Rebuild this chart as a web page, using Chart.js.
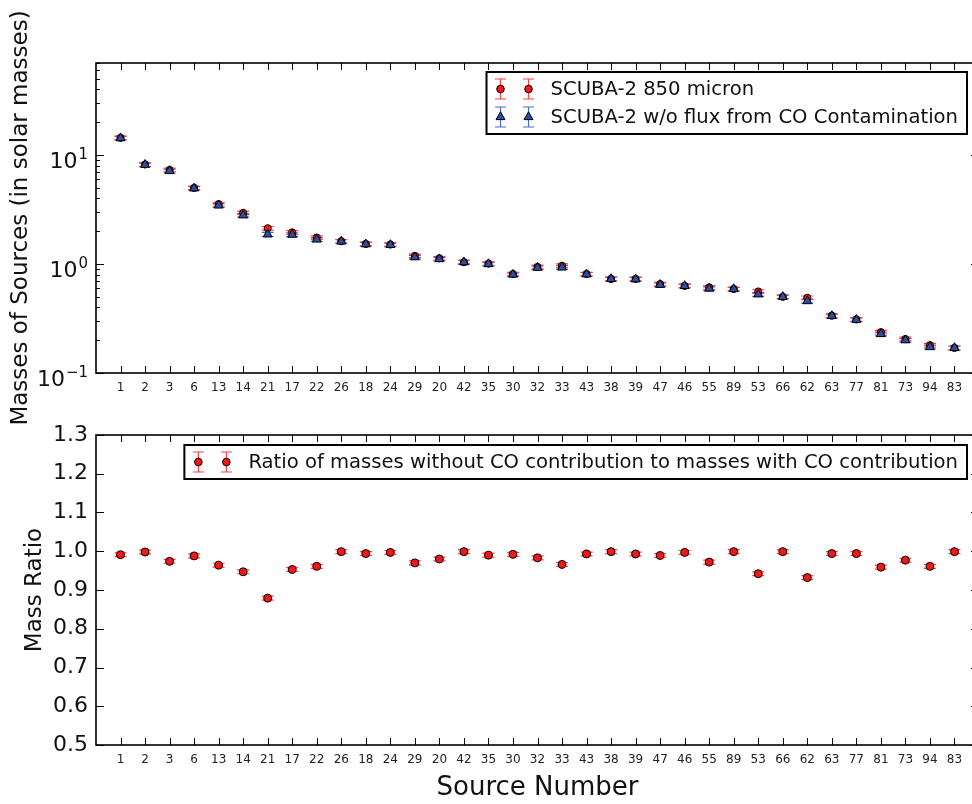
<!DOCTYPE html>
<html>
<head>
<meta charset="utf-8">
<title>Source masses with and without CO contamination</title>
<script src="https://cdn.jsdelivr.net/npm/chart.js@4.4.1/dist/chart.umd.min.js"></script>
<style>
  html, body { margin: 0; padding: 0; background: #fff; overflow: hidden; }
  canvas { position: absolute; left: 0; }
  #massChart { top: 0; }
  #ratioChart { top: 400px; }
</style>
</head>
<body>
<canvas id="ratioChart" width="990" height="404"></canvas>
<canvas id="massChart" width="990" height="440"></canvas>
<script>
// ---- data ----
const sourceLabels = ['1', '2', '3', '6', '13', '14', '21', '17', '22', '26', '18', '24', '29', '20', '42', '35', '30', '32',
  '33', '43', '38', '39', '47', '46', '55', '89', '53', '66', '62', '63', '77', '81', '73', '94', '83'];

// SCUBA-2 850 micron masses (solar masses)
const massTotal = [14.4, 8.2, 7.3, 5.0, 3.55, 2.95, 2.13, 1.95, 1.75, 1.62, 1.53, 1.51, 1.19, 1.13, 1.04, 1.01, 0.81, 0.94,
  0.965, 0.81, 0.73, 0.73, 0.655, 0.63, 0.61, 0.59, 0.56, 0.50, 0.49, 0.336, 0.31, 0.237, 0.205, 0.18, 0.17];

// masses after removing the CO line contribution
const massNoCO = [14.3, 8.15, 7.15, 4.95, 3.45, 2.8, 1.87, 1.86, 1.68, 1.61, 1.52, 1.50, 1.155, 1.11, 1.04, 1.0, 0.80, 0.925,
  0.93, 0.805, 0.73, 0.725, 0.645, 0.63, 0.595, 0.59, 0.527, 0.50, 0.457, 0.334, 0.308, 0.228, 0.2, 0.173, 0.17];

const massErr = [0.55, 0.3, 0.28, 0.19, 0.14, 0.11, 0.08, 0.075, 0.065, 0.06, 0.058, 0.057, 0.045, 0.043, 0.04, 0.038, 0.031, 0.036,
  0.037, 0.031, 0.028, 0.028, 0.025, 0.024, 0.023, 0.022, 0.021, 0.019, 0.019, 0.013, 0.012, 0.009, 0.008, 0.007, 0.007];

const massRatio = [0.991, 0.998, 0.974, 0.988, 0.964, 0.947, 0.879, 0.953, 0.961, 0.999, 0.994, 0.997, 0.970, 0.980, 0.999, 0.990, 0.992, 0.983,
  0.966, 0.993, 0.999, 0.993, 0.989, 0.997, 0.972, 0.999, 0.942, 0.999, 0.932, 0.994, 0.994, 0.959, 0.977, 0.961, 0.999];
const ratioErr = 0.005;

// log axis ticks: 10^-1, 10^0, 10^1
const massTickValues = [0.1, 1, 10];
const massTickExponents = ['\u22121', '0', '1'];

const FONT = "'DejaVu Sans', sans-serif";
const RED = '#f01818';
const RED_ERR = '#ff4040';
const BLUE = '#2b4ea6';
const BLUE_ERR = '#4a6cc8';

const toPoints = vals => vals.map((v, i) => ({ x: i + 1, y: v }));

/* =========================================================
   Plugins: error bars, matplotlib-style frame, boxed legend
   ========================================================= */
const errorBars = {
  id: 'errorBars',
  beforeDatasetsDraw(chart) {
    const { ctx } = chart;
    const yScale = chart.scales.y;
    chart.data.datasets.forEach((ds, di) => {
      if (!ds.errors) return;
      const meta = chart.getDatasetMeta(di);
      ctx.save();
      ctx.strokeStyle = ds.errorColor;
      ctx.lineWidth = 1.2;
      meta.data.forEach((pt, i) => {
        const v = ds.data[i].y;
        const e = Array.isArray(ds.errors) ? ds.errors[i] : ds.errors;
        const y1 = yScale.getPixelForValue(v - e);
        const y2 = yScale.getPixelForValue(v + e);
        ctx.beginPath();
        ctx.moveTo(pt.x, y1); ctx.lineTo(pt.x, y2);
        ctx.moveTo(pt.x - 6, y1); ctx.lineTo(pt.x + 6, y1);
        ctx.moveTo(pt.x - 6, y2); ctx.lineTo(pt.x + 6, y2);
        ctx.stroke();
      });
      ctx.restore();
    });
  }
};

const mplFrame = {
  id: 'mplFrame',
  afterDatasetsDraw(chart, args, opts) {
    const { ctx, chartArea: a } = chart;
    const x = chart.scales.x, y = chart.scales.y;
    const seg = (x1, y1, x2, y2) => { ctx.moveTo(x1, y1); ctx.lineTo(x2, y2); };
    ctx.save();
    ctx.strokeStyle = '#000';
    ctx.lineWidth = 1;
    ctx.beginPath();
    for (let i = 1; i <= sourceLabels.length; i++) {
      const px = Math.round(x.getPixelForValue(i)) + 0.5;
      seg(px, a.bottom, px, a.bottom - 7);
      seg(px, a.top, px, a.top + 7);
    }
    y.ticks.forEach(t => {
      const py = Math.round(y.getPixelForValue(t.value)) + 0.5;
      seg(a.left, py, a.left + 8, py);
      seg(a.right, py, a.right - 8, py);
    });
    if (opts.minorDecades) {
      opts.minorDecades.forEach(d => {
        for (let k = 2; k <= 9; k++) {
          const v = k * d;
          if (v > y.max) break;
          const py = Math.round(y.getPixelForValue(v)) + 0.5;
          seg(a.left, py, a.left + 4, py);
          seg(a.right, py, a.right - 4, py);
        }
      });
    }
    ctx.stroke();
    ctx.lineWidth = 1.6;
    ctx.strokeRect(a.left, a.top, a.right - a.left, a.bottom - a.top);

    // power-of-ten labels with a raised exponent
    if (opts.powerLabels) {
      ctx.fillStyle = '#111';
      ctx.textBaseline = 'alphabetic';
      y.ticks.forEach(t => {
        const idx = massTickValues.indexOf(t.value);
        if (idx < 0) return;
        const py = y.getPixelForValue(t.value);
        const right = a.left - 8;
        ctx.font = '15px ' + FONT;
        ctx.textAlign = 'right';
        const exp = massTickExponents[idx];
        const expW = ctx.measureText(exp).width;
        ctx.fillText(exp, right, py + 4);
        ctx.font = '22px ' + FONT;
        ctx.fillText('10', right - expW - 1, py + 13);
      });
    }
    ctx.restore();
  }
};

function drawMarker(ctx, style, cx, cy, r, fill) {
  ctx.beginPath();
  if (style === 'triangle') {
    ctx.moveTo(cx, cy - r);
    ctx.lineTo(cx + r * 0.866, cy + r * 0.5);
    ctx.lineTo(cx - r * 0.866, cy + r * 0.5);
    ctx.closePath();
  } else {
    ctx.arc(cx, cy, r, 0, Math.PI * 2);
  }
  ctx.fillStyle = fill;
  ctx.fill();
  ctx.strokeStyle = '#000';
  ctx.lineWidth = 1;
  ctx.stroke();
}

const boxLegend = {
  id: 'boxLegend',
  afterDraw(chart, args, opts) {
    const { ctx, chartArea: a } = chart;
    const items = opts.items || [];
    ctx.save();
    ctx.font = '19.6px ' + FONT;
    const textW = Math.max(...items.map(it => ctx.measureText(it.text).width));
    const rowH = 28;
    const w = 64 + textW + 9;
    const h = rowH * items.length + 6;
    const right = a.right - 12;
    const left = right - w;
    const top = a.top + opts.offsetTop;
    ctx.fillStyle = '#fff';
    ctx.fillRect(left, top, w, h);
    ctx.strokeStyle = '#000';
    ctx.lineWidth = 2;
    ctx.strokeRect(left, top, w, h);
    items.forEach((it, i) => {
      const cy = top + 3 + rowH / 2 + i * rowH;
      [left + 14, left + 42].forEach(mx => {
        ctx.strokeStyle = it.errColor;
        ctx.lineWidth = 1.2;
        ctx.beginPath();
        ctx.moveTo(mx, cy - 10); ctx.lineTo(mx, cy + 10);
        ctx.moveTo(mx - 5.5, cy - 10); ctx.lineTo(mx + 5.5, cy - 10);
        ctx.moveTo(mx - 5.5, cy + 10); ctx.lineTo(mx + 5.5, cy + 10);
        ctx.stroke();
        drawMarker(ctx, it.style, mx, cy, it.style === 'triangle' ? 5.2 : 3.8, it.color);
      });
      ctx.fillStyle = '#111';
      ctx.textBaseline = 'middle';
      ctx.textAlign = 'left';
      ctx.fillText(it.text, left + 64, cy + 1);
    });
    ctx.restore();
  }
};

function xScale(scaleHeight, withTitle) {
  return {
    type: 'linear',
    min: 0,
    max: sourceLabels.length + 1,
    grid: { display: false, drawTicks: false },
    border: { display: false },
    afterFit: s => { s.height = scaleHeight; },
    ticks: {
      stepSize: 1,
      autoSkip: false,
      maxRotation: 0,
      padding: 8,
      color: '#222',
      font: { family: FONT, size: 12 },
      callback: v => sourceLabels[v - 1] || ''
    },
    title: withTitle ? {
      display: true,
      text: 'Source Number',
      color: '#111',
      font: { family: FONT, size: 26 },
      padding: { top: 0, bottom: 0 }
    } : { display: false }
  };
}

/* =========================================================
   Top panel — masses (log scale)
   ========================================================= */
new Chart(document.getElementById('massChart'), {
  type: 'scatter',
  data: {
    datasets: [
      {
        label: 'SCUBA-2 w/o flux from CO Contamination',
        data: toPoints(massNoCO),
        errors: massErr,
        errorColor: BLUE_ERR,
        pointStyle: 'triangle',
        pointRadius: 5.2,
        backgroundColor: BLUE,
        borderColor: '#000',
        borderWidth: 1
      },
      {
        label: 'SCUBA-2 850 micron',
        data: toPoints(massTotal),
        errors: massErr,
        errorColor: RED_ERR,
        pointStyle: 'circle',
        pointRadius: 3.6,
        backgroundColor: RED,
        borderColor: '#000',
        borderWidth: 1
      }
    ]
  },
  options: {
    responsive: false,
    animation: false,
    events: [],
    layout: { padding: { top: 63, right: 11, left: 0, bottom: 0 } },
    plugins: {
      legend: { display: false },
      tooltip: { enabled: false },
      mplFrame: { minorDecades: [0.1, 1, 10], powerLabels: true },
      boxLegend: {
        offsetTop: 9,
        items: [
          { text: 'SCUBA-2 850 micron', style: 'circle', color: RED, errColor: RED_ERR },
          { text: 'SCUBA-2 w/o flux from CO Contamination', style: 'triangle', color: BLUE, errColor: BLUE_ERR }
        ]
      }
    },
    scales: {
      x: xScale(67, false),
      y: {
        type: 'logarithmic',
        min: 0.1,
        max: 70,
        grid: { display: false, drawTicks: false },
        border: { display: false },
        afterFit: s => { s.width = 96; },
        afterBuildTicks: s => { s.ticks = massTickValues.map(v => ({ value: v })); },
        ticks: { display: false },
        title: {
          display: true,
          text: 'Masses of Sources (in solar masses)',
          color: '#111',
          font: { family: FONT, size: 23 },
          padding: { top: 7, bottom: 0 }
        }
      }
    }
  },
  plugins: [errorBars, mplFrame, boxLegend]
});

/* =========================================================
   Bottom panel — mass ratio
   ========================================================= */
new Chart(document.getElementById('ratioChart'), {
  type: 'scatter',
  data: {
    datasets: [
      {
        label: 'Ratio of masses without CO contribution to masses with CO contribution',
        data: toPoints(massRatio),
        errors: ratioErr,
        errorColor: RED_ERR,
        pointStyle: 'circle',
        pointRadius: 4,
        backgroundColor: RED,
        borderColor: '#000',
        borderWidth: 1
      }
    ]
  },
  options: {
    responsive: false,
    animation: false,
    events: [],
    layout: { padding: { top: 35, right: 11, left: 0, bottom: 0 } },
    plugins: {
      legend: { display: false },
      tooltip: { enabled: false },
      mplFrame: {},
      boxLegend: {
        offsetTop: 10,
        items: [
          { text: 'Ratio of masses without CO contribution to masses with CO contribution', style: 'circle', color: RED, errColor: RED_ERR }
        ]
      }
    },
    scales: {
      x: xScale(59, true),
      y: {
        type: 'linear',
        min: 0.5,
        max: 1.3,
        grid: { display: false, drawTicks: false },
        border: { display: false },
        afterFit: s => { s.width = 96; },
        ticks: {
          stepSize: 0.1,
          autoSkip: false,
          padding: 8,
          color: '#111',
          font: { family: FONT, size: 22 },
          callback: v => v.toFixed(1)
        },
        title: {
          display: true,
          text: 'Mass Ratio',
          color: '#111',
          font: { family: FONT, size: 23 },
          padding: { top: 21, bottom: 0 }
        }
      }
    }
  },
  plugins: [errorBars, mplFrame, boxLegend]
});
</script>
</body>
</html>
